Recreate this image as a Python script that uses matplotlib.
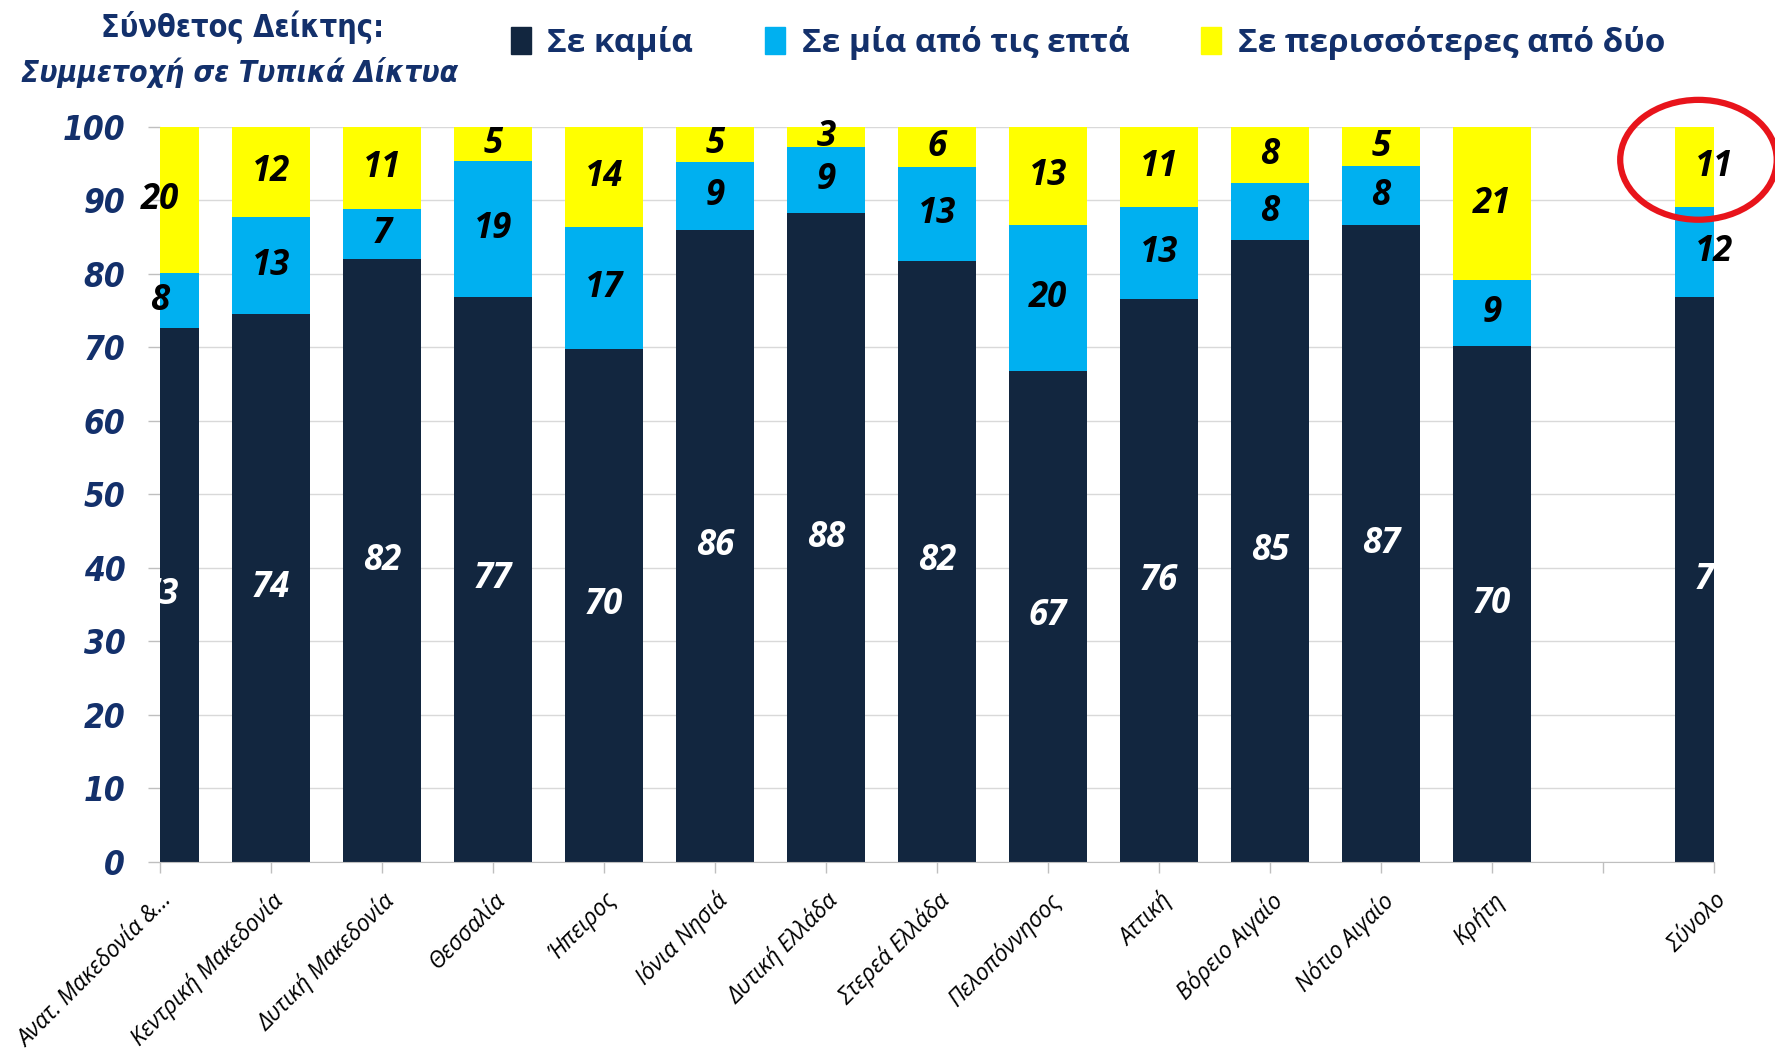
import matplotlib
matplotlib.use("Agg")
import matplotlib.pyplot as plt
from matplotlib.patches import Ellipse, Patch
import numpy as np

# data (segment heights) and the printed labels
regions = ["Ανατ. Μακεδονία &...", "Κεντρική Μακεδονία", "Δυτική Μακεδονία", "Θεσσαλία",
           "Ήπειρος", "Ιόνια Νησιά", "Δυτική Ελλάδα", "Στερεά Ελλάδα", "Πελοπόννησος",
           "Αττική", "Βόρειο Αιγαίο", "Νότιο Αιγαίο", "Κρήτη", "", "Σύνολο"]
none_vals = [72.6, 74.5, 82.0, 76.9, 69.8, 86.0, 88.2, 81.8, 66.8, 76.5, 84.6, 86.6, 70.2, np.nan, 76.8]
one_vals = [7.5, 13.2, 6.8, 18.5, 16.5, 9.2, 9.0, 12.7, 19.8, 12.6, 7.7, 8.0, 8.9, np.nan, 12.3]
more_vals = [19.9, 12.3, 11.2, 4.6, 13.7, 4.8, 2.8, 5.5, 13.4, 10.9, 7.7, 5.4, 20.9, np.nan, 10.9]
none_lbl = [73, 74, 82, 77, 70, 86, 88, 82, 67, 76, 85, 87, 70, None, 77]
one_lbl = [8, 13, 7, 19, 17, 9, 9, 13, 20, 13, 8, 8, 9, None, 12]
more_lbl = [20, 12, 11, 5, 14, 5, 3, 6, 13, 11, 8, 5, 21, None, 11]
series_names = ["Σε καμία", "Σε μία από τις επτά", "Σε περισσότερες από δύο"]
yticks = [0, 10, 20, 30, 40, 50, 60, 70, 80, 90, 100]

c_dark = "#12263F"
c_blue = "#00B0F0"
c_yel = "#FFFF00"
navy = "#13306B"

plt.rcParams["font.family"] = ["Open Sans", "Noto Sans", "DejaVu Sans"]

fig = plt.figure(figsize=(17.75, 10.51), dpi=100)
ax = fig.add_axes([160 / 1775, 1 - 862 / 1051, (1714 - 160) / 1775, (862 - 126.7) / 1051])

x = np.arange(len(regions))
w = 0.71
none_a = np.array(none_vals)
one_a = np.array(one_vals)
more_a = np.array(more_vals)
ax.bar(x, none_a, w, color=c_dark, zorder=2)
ax.bar(x, one_a, w, bottom=none_a, color=c_blue, zorder=2)
ax.bar(x, more_a, w, bottom=none_a + one_a, color=c_yel, zorder=2)

lab_kw = dict(ha="center", va="center", fontsize=25, fontweight="bold", style="italic",
              clip_on=False, zorder=4)
for i in range(len(regions)):
    if none_lbl[i] is None:
        continue
    ax.text(x[i], none_a[i] / 2, str(none_lbl[i]), color="white", **lab_kw)
    ax.text(x[i], none_a[i] + one_a[i] / 2, str(one_lbl[i]), color="black", **lab_kw)
    ax.text(x[i], none_a[i] + one_a[i] + more_a[i] / 2, str(more_lbl[i]), color="black", **lab_kw)

ax.set_xlim(0, len(regions) - 1)
ax.set_ylim(0, 100)
ax.set_yticks(yticks)
ax.set_yticklabels([str(v) for v in yticks], family=["DejaVu Sans"], stretch="condensed",
                   fontsize=24, fontweight="bold", style="italic", color=navy)
ax.set_xticks(x)
ax.set_xticklabels(regions, rotation=45, ha="right", rotation_mode="anchor", fontsize=16.5,
                   style="italic", color="black")
ax.tick_params(axis="y", length=9, width=1, color="#BFBFBF", pad=16)
ax.tick_params(axis="x", length=8, width=1, color="#BFBFBF", pad=11)
ax.grid(axis="y", color="#D9D9D9", linewidth=1, zorder=0)
for s in ["top", "right", "left"]:
    ax.spines[s].set_visible(False)
ax.spines["bottom"].set_color("#BFBFBF")

# title in the top-left corner
fig.text(243 / 1775, 1 - 27 / 1051, "Σύνθετος Δείκτης:", ha="center", va="center",
         family=["DejaVu Sans"], stretch="condensed", fontsize=22, fontweight="bold", color=navy)
fig.text(240 / 1775, 1 - 73 / 1051, "Συμμετοχή σε Τυπικά Δίκτυα", ha="center", va="center",
         family=["DejaVu Sans"], stretch="condensed", fontsize=21.5, fontweight="bold",
         style="italic", color=navy)

handles = [Patch(color=c) for c in (c_dark, c_blue, c_yel)]
leg = fig.legend(handles, series_names, loc="center left", bbox_to_anchor=(494 / 1775, 1 - 43 / 1051),
                 ncol=3, frameon=False, handlelength=0.6, handleheight=0.9, handletextpad=0.5,
                 columnspacing=2.15, borderpad=0, prop=dict(size=24, weight="bold"))
for t in leg.get_texts():
    t.set_color(navy)

# red circle around the total's top value
ax.add_patch(Ellipse((13.86, 95.5), 1.41, 16.3, fill=False, edgecolor="#E8141B", linewidth=4.5,
                     clip_on=False, zorder=5))

fig.savefig("out.png", dpi=100)
